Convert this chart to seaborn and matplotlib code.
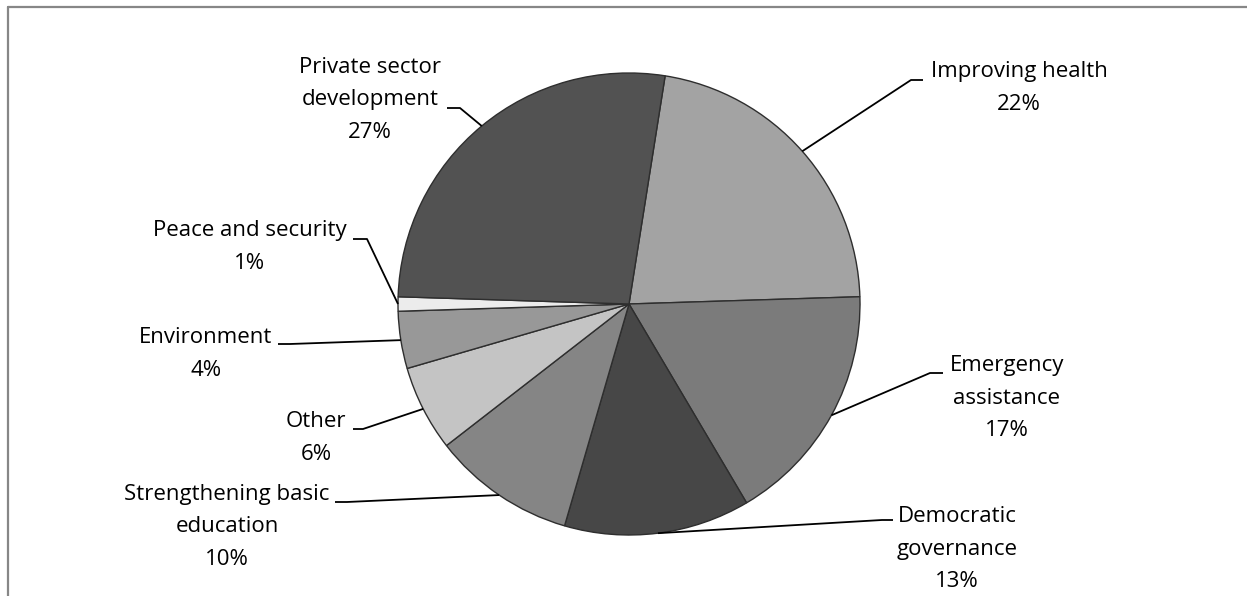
import matplotlib
matplotlib.use("Agg")
import matplotlib.pyplot as plt
import numpy as np
import seaborn as sns
from matplotlib.lines import Line2D

# --- chart data (clockwise from the top) ---
categories = [
    "Improving health",
    "Emergency\nassistance",
    "Democratic\ngovernance",
    "Strengthening basic\neducation",
    "Other",
    "Environment",
    "Peace and security",
    "Private sector\ndevelopment",
]
shares = [22, 17, 13, 10, 6, 4, 1, 27]
slice_colors = ["#a3a3a3", "#7b7b7b", "#474747", "#858585",
                "#c4c4c4", "#989898", "#ececec", "#525252"]

# label layout in image pixels: text centre, elbow start, elbow end
label_layout = [
    ((1019, 88), (923, 80), (911, 80)),
    ((1007, 398), (943, 373), (930, 373)),
    ((957, 549), (893, 520), (882, 520)),
    ((227, 527), (335, 502), (347, 502)),
    ((316, 438), (353, 429), (363, 429)),
    ((206, 354), (278, 344), (290, 344)),
    ((250, 247), (353, 239), (367, 239)),
    ((370, 100), (447, 108), (460, 108)),
]

W, H = 1247, 596
CX, CY, R = 629, 304, 231


def flip(p):
    return p[0], H - p[1]


sns.set_theme(style="white")
plt.rcParams["font.family"] = ["Open Sans", "DejaVu Sans"]

fig = plt.figure(figsize=(W / 100, H / 100), dpi=100)
ax = fig.add_axes([0, 0, 1, 1])

wedges, _ = ax.pie(
    shares,
    colors=slice_colors,
    startangle=81,
    counterclock=False,
    center=(CX, H - CY),
    radius=R,
    wedgeprops=dict(edgecolor="#2e2e2e", linewidth=1.0),
    frame=True,
)
ax.set_xlim(0, W)
ax.set_ylim(0, H)
ax.set_aspect("equal")
ax.axis("off")

for wedge, name, share, (txt, e0, e1) in zip(wedges, categories, shares, label_layout):
    mid = np.deg2rad((wedge.theta1 + wedge.theta2) / 2)
    ex = CX + R * np.cos(mid)
    ey = (H - CY) + R * np.sin(mid)
    x0, y0 = flip(e0)
    x1, y1 = flip(e1)
    ax.plot([x0, x1, ex], [y0, y1, ey], color="black", lw=1.3, solid_capstyle="butt")
    tx, ty = flip(txt)
    ax.text(tx, ty, f"{name}\n{share}%", ha="center", va="center",
            fontsize=16, linespacing=1.72, color="black")

# outer frame (top and left edges only)
fig.add_artist(Line2D([8 / W, 1], [1 - 7 / H, 1 - 7 / H], color="#878787", lw=1.6))
fig.add_artist(Line2D([8 / W, 8 / W], [0, 1 - 7 / H], color="#878787", lw=1.6))

fig.savefig("out.png", dpi=100, facecolor="white")
